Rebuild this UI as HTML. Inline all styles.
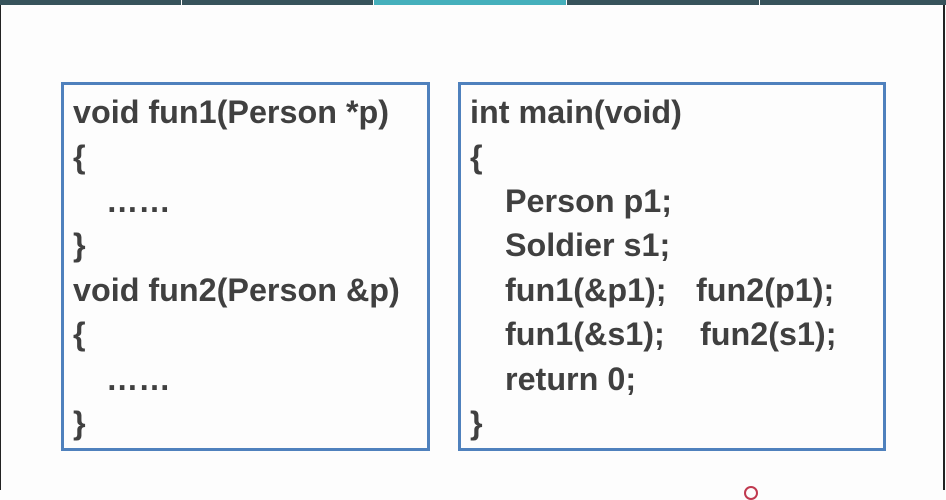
<!DOCTYPE html>
<html><head><meta charset="utf-8"><style>
body{margin:0;width:946px;height:490px;background:#fdfdfd;position:relative;overflow:hidden;font-family:"Liberation Sans",sans-serif}
.bar{position:absolute;top:0;height:5px}
.box{position:absolute;border:3px solid #4f81bd;box-sizing:border-box}
.t{position:absolute;font-weight:bold;font-size:32px;color:#404040;white-space:pre;line-height:32px;transform:scaleX(1.01);transform-origin:left center}
</style></head><body>
<div class="bar" style="left:0;width:181px;background:#37535b"></div>
<div class="bar" style="left:182px;width:191px;background:#37535b"></div>
<div class="bar" style="left:374px;width:192px;background:#45b0bc"></div>
<div class="bar" style="left:567px;width:192px;background:#37535b"></div>
<div class="bar" style="left:760px;width:186px;background:#37535b"></div>
<div style="position:absolute;left:0;top:5px;width:1px;height:485px;background:#222"></div>
<div style="position:absolute;left:943px;top:5px;width:2px;height:485px;background:#222"></div>
<div class="box" style="left:61px;top:82px;width:369px;height:369px"></div>
<div class="box" style="left:458px;top:82px;width:428px;height:369px"></div>
<div class="t" style="left:73px;top:96px">void fun1(Person *p)</div>
<div class="t" style="left:73px;top:141px">{</div>
<div class="t" style="left:106px;top:185px">……</div>
<div class="t" style="left:73px;top:229px">}</div>
<div class="t" style="left:73px;top:274px">void fun2(Person &amp;p)</div>
<div class="t" style="left:73px;top:318px">{</div>
<div class="t" style="left:106px;top:363px">……</div>
<div class="t" style="left:73px;top:407px">}</div>
<div class="t" style="left:470px;top:96px">int main(void)</div>
<div class="t" style="left:470px;top:141px">{</div>
<div class="t" style="left:505px;top:185px">Person p1;</div>
<div class="t" style="left:505px;top:229px">Soldier s1;</div>
<div class="t" style="left:505px;top:274px">fun1(&amp;p1);</div>
<div class="t" style="left:696px;top:274px">fun2(p1);</div>
<div class="t" style="left:505px;top:318px">fun1(&amp;s1);</div>
<div class="t" style="left:700px;top:318px">fun2(s1);</div>
<div class="t" style="left:505px;top:363px">return 0;</div>
<div class="t" style="left:470px;top:407px">}</div>
<div style="position:absolute;left:744px;top:486px;width:10px;height:10px;border:2px solid #c0394f;border-radius:50%"></div>
</body></html>
